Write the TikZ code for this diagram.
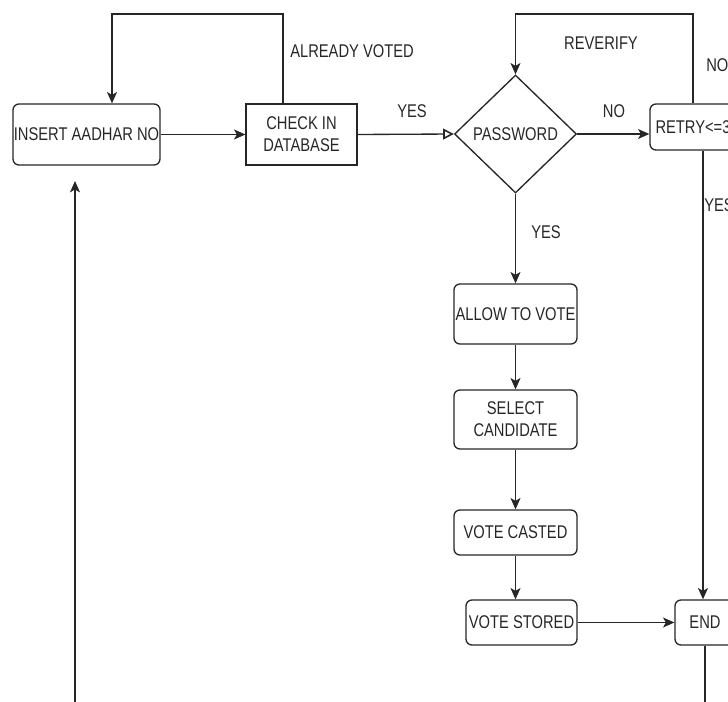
\documentclass[tikz,border=0pt]{standalone}
\usepackage{fontspec}
\setmainfont{Liberation Sans}[FakeStretch=0.8]
\usetikzlibrary{arrows.meta,shapes.geometric}

\tikzset{
  every node/.style={font=\fontsize{13.8}{16.5}\selectfont, text=black!85},
  flow/.style={draw=black!85, line width=1pt},
  rbox/.style={flow, rounded corners=4.5pt, inner sep=0pt, align=center},
  sbox/.style={flow, inner sep=0pt, align=center},
  decision/.style={flow, diamond, inner sep=0pt, align=center},
  arr/.style={flow, -{Stealth[length=8.5pt,width=7.5pt,inset=2.2pt]}},
  openarr/.style={flow, -{Triangle[open,length=8pt,width=8pt,line width=1.2pt]}},
  lbl/.style={inner sep=0pt}
}

\begin{document}
\begin{tikzpicture}[x=0.75pt,y=-0.75pt]
  % page frame (coordinates in pixels, y grows downwards)
  \useasboundingbox (0,0) rectangle (728,702);
  \clip (0,0) rectangle (728,702);

  % process steps
  \node[rbox, minimum width=110.25pt, minimum height=45.75pt] (insert) at (86.5,134.5) {INSERT AADHAR NO};
  \node[sbox, minimum width=83.25pt, minimum height=45.75pt] (check) at (301.5,134.5) {CHECK IN\\DATABASE};
  \node[decision, minimum width=91.5pt, minimum height=88.5pt] (pwd) at (515.5,134) {PASSWORD};
  \node[rbox, minimum width=64.5pt, minimum height=34.5pt] (retry) at (693,127) {RETRY<=3};
  \node[rbox, minimum width=92.25pt, minimum height=45pt] (allow) at (515.5,314) {ALLOW TO VOTE};
  \node[rbox, minimum width=92.25pt, minimum height=44.25pt] (select) at (515.5,419.5) {SELECT\\CANDIDATE};
  \node[rbox, minimum width=92.25pt, minimum height=33.75pt] (casted) at (515.5,532.5) {VOTE CASTED};
  \node[rbox, minimum width=83.25pt, minimum height=33.75pt] (stored) at (521.5,622.5) {VOTE STORED};
  \node[rbox, minimum width=45pt, minimum height=33.75pt] (end) at (705,622.5) {END};

  % bends of the loops
  \coordinate (votedUp) at (283,14);
  \coordinate (votedLeft) at (112,14);
  \coordinate (verifyUp) at (693,14);
  \coordinate (retryDown) at (703,160);
  \coordinate (endDown) at (705,720);
  \coordinate (backFoot) at (75,720);
  \coordinate (backHead) at (75,181);

  % connectors
  \draw[arr] (insert) -- (check);
  \draw[arr] (check.north -| votedUp) -- (votedUp) -- (votedLeft) -- (votedLeft |- insert.north);
  \draw[openarr] (check.east) -- (pwd.west);
  \draw[arr] (pwd.east) -- (pwd.east -| retry.west);
  \draw[arr] (retry.north) -- (verifyUp) -| (pwd.north);
  \draw[arr] (retry.south -| retryDown) -- (end.north -| retryDown);
  \draw[arr] (pwd.south) -- (allow.north);
  \draw[arr] (allow) -- (select);
  \draw[arr] (select) -- (casted);
  \draw[arr] (casted.south) -- (casted.south |- stored.north);
  \draw[arr] (stored) -- (end);
  \draw[flow] (end.south -| endDown) -- (endDown);
  \draw[arr, line width=1.3pt] (backFoot) -- (backHead);

  % connector labels
  \node[lbl, anchor=west] (lvoted) at (290,51) {ALREADY VOTED};
  \node[lbl] (lyes1) at (412,111) {YES};
  \node[lbl] (lno1) at (614,111) {NO};
  \node[lbl] (lreverify) at (601,43) {REVERIFY};
  \node[lbl, anchor=west] (lno2) at (706,65) {NO};
  \node[lbl, anchor=west] (lyes2) at (704,205) {YES};
  \node[lbl] (lyes3) at (546,232) {YES};
\end{tikzpicture}
\end{document}
